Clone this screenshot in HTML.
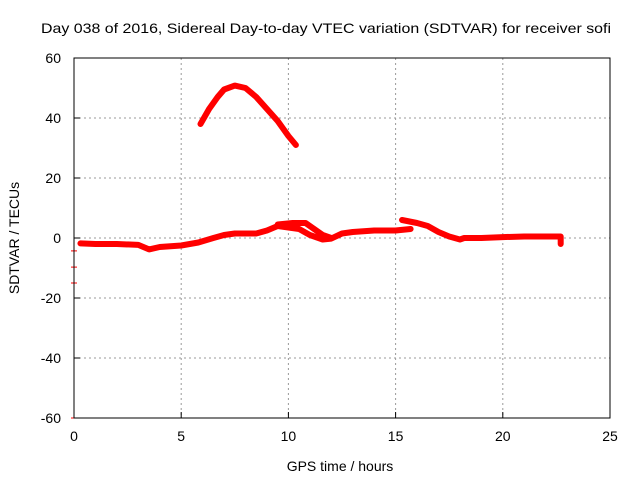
<!DOCTYPE html>
<html><head><meta charset="utf-8"><style>
html,body{margin:0;padding:0;background:#fff;}
svg{display:block;font-family:"Liberation Sans",sans-serif;}
</style></head><body>
<svg id="chart" width="640" height="480" xmlns="http://www.w3.org/2000/svg">
<rect width="640" height="480" fill="#fff"/>
<text x="41" y="33" font-size="14" textLength="570" lengthAdjust="spacingAndGlyphs" fill="#000">Day 038 of 2016, Sidereal Day-to-day VTEC variation (SDTVAR) for receiver sofi</text>
<g id="grid"></g>
<g id="series"></g>
<g id="axes"></g>
<text x="340" y="471" font-size="14" text-anchor="middle">GPS time / hours</text>
<text transform="translate(19,238) rotate(-90)" font-size="14" text-anchor="middle">SDTVAR / TECUs</text>
</svg>
<script>
const xTicks=[0,5,10,15,20,25];
const yTicks=[-60,-40,-20,0,20,40,60];
const arcT=[5.9,6.3,6.7,7.0,7.5,8.0,8.5,9.0,9.5,10.0,10.35];
const arcV=[38,43,47,49.5,50.8,50,47,43,39,34,31];
const lowT=[0.3,1,2,3,3.5,4,5,5.8,6.5,7,7.5,8.5,9,9.5,10,10.5,11,11.6,12,12.5,13,14,15,15.7];
const lowV=[-1.8,-2,-2,-2.3,-3.8,-3,-2.5,-1.5,0,1,1.5,1.5,2.5,4,3.5,3,1,-0.5,-0.2,1.5,2,2.5,2.5,3];
const midT=[9.5,10.2,10.8,11.2,11.6,12];
const midV=[4.5,5,5,3,1,0];
const lateT=[15.3,16,16.5,17,17.5,18,18.2,19,20,21,22,22.7,22.7];
const lateV=[6,5,4,2,0.5,-0.5,0,0,0.3,0.5,0.5,0.5,-2];
const dotT=[0,0,0,0];
const dotV=[-4.3,-9.7,-15,-60];
const L=74,R=610,T=58,B=418;
const xs=t=>L+(t-0)/(25-0)*(R-L);
const ys=v=>B-(v+60)/120*(B-T);
const NS="http://www.w3.org/2000/svg";
function mk(tag,attrs,parent){const e=document.createElementNS(NS,tag);for(const k in attrs)e.setAttribute(k,attrs[k]);parent.appendChild(e);return e;}
const grid=document.getElementById('grid'),axes=document.getElementById('axes'),series=document.getElementById('series');
xTicks.forEach(t=>{
  if(t>0&&t<25){const g=mk('line',{x1:xs(t),x2:xs(t),y1:T,y2:B,stroke:'#999','stroke-dasharray':'2,3'},grid);
  
  }
  const tk=mk('line',{x1:xs(t),x2:xs(t),y1:B,y2:B-6,stroke:'#000'},axes);
  
  
  const tx=mk('text',{x:xs(t),y:B+23,'font-size':14,'text-anchor':'middle'},axes);tx.textContent=t;
  
  
});
yTicks.forEach(v=>{
  if(v>-60&&v<60){const g=mk('line',{x1:L,x2:R,y1:ys(v),y2:ys(v),stroke:'#999','stroke-dasharray':'2,3'},grid);
  
  }
  const tk=mk('line',{x1:L,x2:L+6,y1:ys(v),y2:ys(v),stroke:'#000'},axes);
  
  
  const tx=mk('text',{x:L-13,y:ys(v)+5,'font-size':14,'text-anchor':'end'},axes);tx.textContent=v;
  
  
});
const fr=mk('rect',{x:L,y:T,width:R-L,height:B-T,fill:'none',stroke:'#000'},axes);


function line(ts,vs,name){
  const p=mk('polyline',{points:ts.map((t,i)=>xs(t)+','+ys(vs[i])).join(' '),fill:'none',stroke:'#f00','stroke-width':6,'stroke-linejoin':'round','stroke-linecap':'round'},series);
  
  
}
line(arcT,arcV,'arc-segment');
line(lowT,lowV,'low-segment');
line(midT,midV,'mid-segment');
line(lateT,lateV,'late-segment');
dotT.forEach((t,i)=>{
  const d=mk('line',{x1:xs(t)-3,x2:xs(t)+3,y1:ys(dotV[i]),y2:ys(dotV[i]),stroke:'#f00','stroke-width':1},series);
  
  
});
</script>
</body></html>
